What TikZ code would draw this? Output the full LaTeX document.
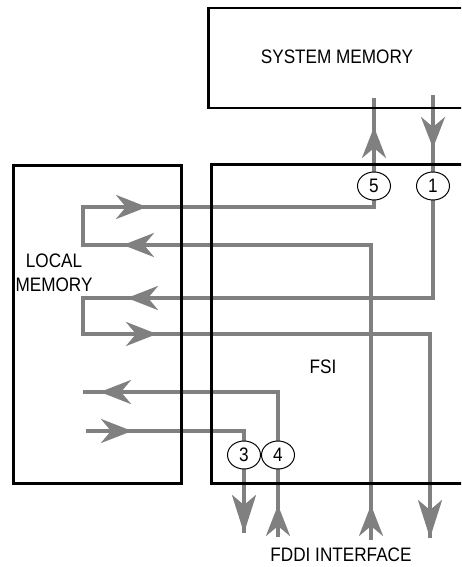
\documentclass[tikz,border=0pt]{standalone}
\usepackage{fontspec}
\setmainfont{Liberation Sans}[FakeStretch=0.88]
\usetikzlibrary{arrows.meta,shapes.geometric}

\tikzset{
  box/.style={draw, line width=2.5pt, inner sep=0pt, anchor=north west},
  flow/.style={draw=black!50, line width=4pt},
  flowhead/.style={flow, -{Stealth[length=#1,width=24pt,inset=10pt]}},
  flowhead/.default=31pt,
  tag/.style={draw, fill=white, ellipse, line width=1pt, minimum width=33pt,
    minimum height=28pt, inner sep=0pt, font=\fontsize{19.5}{24}\selectfont},
  lbl/.style={font=\fontsize{19.5}{24}\selectfont, align=center}
}

\begin{document}
\begin{tikzpicture}[x=1pt,y=-1pt]
        \useasboundingbox (0,0) rectangle (461,567);
        \clip (0,0) rectangle (461,567);
        % free ends of the data paths
        \coordinate (s5) at (374,98);
        \coordinate (s1) at (433,95);
        \coordinate (f5) at (371,540);
        \coordinate (f1) at (430,538);
        \coordinate (f3) at (244,533);
        \coordinate (f4) at (278,537);
        \coordinate (l3) at (86,431);
        \coordinate (l4) at (83,392);
        % data paths
        \draw[flow] (f5) -- (f5 |- 0,245) -- (83,245) -- (83,207) -- (s5 |- 0,207) -- (s5);
        \draw[flow] (s1) -- (s1 |- 0,298) -- (83,298) -- (83,334) -- (f1 |- 0,334) -- (f1);
        \draw[flow] (l4) -- (f4 |- l4) -- (f4);
        \draw[flow] (l3) -- (f3 |- l3) -- (f3);
        % arrow heads along the paths
        \foreach \xa/\ya/\xb/\yb in {374/157/374/127, 433/118/433/148, 117/207/147/207,
            153/245/123/245, 157/298/127/298, 127/334/157/334, 130/392/100/392,
            102/431/132/431, 278/535/278/505, 371/535/371/505} {
          \draw[flowhead] (\xa,\ya) -- (\xb,\yb);
        }
        \draw[flowhead=38pt] (244,495) -- (f3);
        \draw[flowhead=38pt] (430,500) -- (f1);
        % boxes
        \node[box, minimum width=280pt, minimum height=100pt] (sysmem) at (207,7) {};
        \node[box, minimum width=280pt, minimum height=319pt] (fsi) at (210,163) {};
        \node[box, minimum width=168pt, minimum height=318pt] (locmem) at (12,164) {};
        % labels
        \node[lbl] (sysmemlbl) at (337,57) {SYSTEM MEMORY};
        \node[lbl] (locmemlbl) at (54,273) {LOCAL\\MEMORY};
        \node[lbl] (fsilbl) at (323,367) {FSI};
        \node[lbl] (fddilbl) at (341,555) {FDDI INTERFACE};
        % numbered tags
        \node[tag] (c5) at (374,186) {5};
        \node[tag] (c1) at (433,186) {1};
        \node[tag] (c3) at (244,455) {3};
        \node[tag] (c4) at (278,455) {4};
\end{tikzpicture}
\end{document}
